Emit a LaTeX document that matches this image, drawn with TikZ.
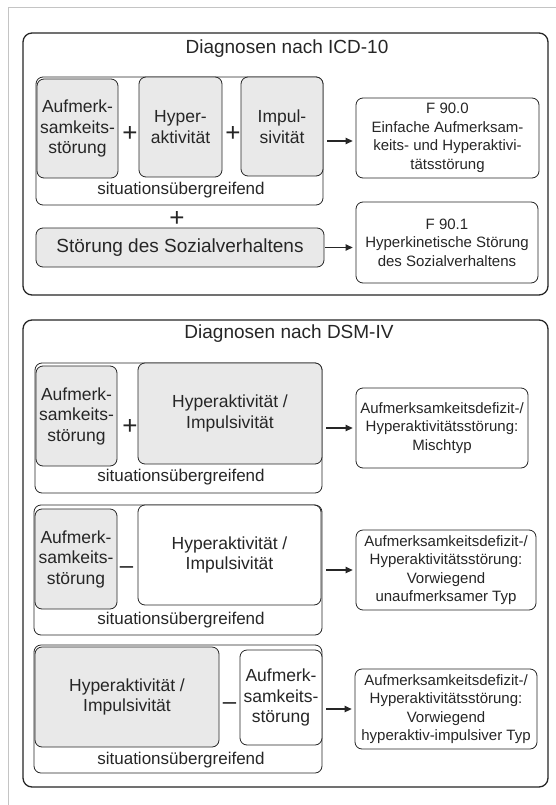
\documentclass[tikz,border=0pt]{standalone}
\usepackage{fontspec}
\setmainfont{Liberation Sans}
\usetikzlibrary{arrows.meta}
\definecolor{ink}{HTML}{262626}
\definecolor{shade}{HTML}{E9E9E9}
\definecolor{frameline}{HTML}{C4C4C4}
\tikzset{
  outerbox/.style={draw=ink, line width=1.3pt, rounded corners=9pt, fill=white, inner sep=0pt},
  groupbox/.style={draw=ink, line width=0.8pt, rounded corners=7pt, fill=white, inner sep=0pt},
  graybox/.style={draw=ink, line width=0.8pt, rounded corners=7pt, fill=shade, align=center, inner sep=1pt, text=ink, font=\fontsize{17.5}{20.5}\selectfont},
  whitebox/.style={graybox, fill=white},
  resultbox/.style={draw=ink, line width=0.8pt, rounded corners=7pt, fill=white, align=center, inner sep=1pt, text=ink, font=\fontsize{15}{18.5}\selectfont},
  titletext/.style={font=\fontsize{19}{22}\selectfont, text=ink, inner sep=0pt},
  sittext/.style={font=\fontsize{17}{20}\selectfont, text=ink, inner sep=0pt},
  plussign/.style={font=\fontsize{26}{26}\selectfont, text=ink, anchor=base, inner sep=0pt},
  dashsign/.style={font=\fontsize{24}{24}\selectfont, text=ink, anchor=base, inner sep=0pt},
  arr/.style={-{Triangle[length=7pt,width=6.5pt]}, line width=1.2pt, draw=ink, shorten <=4pt, shorten >=3pt}
}
\begin{document}
\begin{tikzpicture}[x=1pt,y=-1pt]
\useasboundingbox (0,0) rectangle (556,805);
\fill[white] (0,0) rectangle (556,805);
\draw[frameline, line width=0.8pt] (8,805) -- (8,7) -- (556,7);

% ---------- ICD-10 ----------
\node[outerbox, minimum width=525, minimum height=262] (icd) at (285.5,164) {};
\node[titletext] (icdtitle) at (287,49) {Diagnosen nach ICD-10};
\node[groupbox, minimum width=287, minimum height=128] (g1) at (179.5,141) {};
\node[graybox, minimum width=81, minimum height=99] (a1) at (77.5,128.5) {Aufmerk-\\samkeits-\\störung};
\node[graybox, minimum width=83, minimum height=100] (h1) at (180.5,127) {Hyper-\\aktivität};
\node[graybox, minimum width=82, minimum height=99] (i1) at (282,126.5) {Impul-\\sivität};
\node[plussign] (p1) at (130,142) {+};
\node[plussign] (p2) at (233,142) {+};
\node[sittext] (sit1) at (181,190) {situationsübergreifend};
\node[resultbox, minimum width=183, minimum height=80] (r1) at (447.5,138) {F 90.0\\Einfache Aufmerksam-\\keits- und Hyperaktivi-\\tätsstörung};
\node[plussign] (p3) at (177,226) {+};
\node[graybox, font=\fontsize{19}{22}\selectfont, minimum width=288, minimum height=39] (s1) at (180,247.5) {Störung des Sozialverhaltens};
\node[resultbox, minimum width=182, minimum height=81] (r2) at (447,242.5) {F 90.1\\Hyperkinetische Störung\\des Sozialverhaltens};
\draw[arr] (g1.east) -- (g1.east -| r1.west);
\draw[arr, shorten <=1pt] (s1.east) -- (s1.east -| r2.west);

% ---------- DSM-IV ----------
\node[outerbox, minimum width=525, minimum height=467] (dsm) at (285.5,553.5) {};
\node[titletext] (dsmtitle) at (289,334) {Diagnosen nach DSM-IV};

% Mischtyp
\node[groupbox, minimum width=287, minimum height=130] (gA) at (178.5,428) {};
\node[graybox, minimum width=81, minimum height=100] (aA) at (76.5,416) {Aufmerk-\\samkeits-\\störung};
\node[graybox, minimum width=184, minimum height=101] (hA) at (230,413.5) {Hyperaktivität /\\Impulsivität};
\node[plussign] (pA) at (130,434) {+};
\node[sittext] (sitA) at (181,477) {situationsübergreifend};
\node[resultbox, minimum width=172, minimum height=80] (rA) at (442,428) {Aufmerksamkeitsdefizit-/\\Hyperaktivitätsstörung:\\Mischtyp};
\draw[arr] (gA.east) -- (gA.east -| rA.west);

% unaufmerksamer Typ
\node[groupbox, minimum width=288, minimum height=130] (gB) at (178,570) {};
\node[graybox, minimum width=82, minimum height=100] (aB) at (76,559) {Aufmerk-\\samkeits-\\störung};
\node[whitebox, minimum width=183, minimum height=100] (hB) at (229.5,555) {Hyperaktivität /\\Impulsivität};
\node[dashsign] (dB) at (126.5,573.5) {–};
\node[sittext] (sitB) at (181,620) {situationsübergreifend};
\node[resultbox, minimum width=180, minimum height=80] (rB) at (446,570) {Aufmerksamkeitsdefizit-/\\Hyperaktivitätsstörung:\\Vorwiegend\\unaufmerksamer Typ};
\draw[arr] (gB.east) -- (gB.east -| rB.west);

% hyperaktiv-impulsiver Typ
\node[groupbox, minimum width=288, minimum height=128] (gC) at (178,709) {};
\node[graybox, minimum width=184, minimum height=100] (hC) at (127,697) {Hyperaktivität /\\Impulsivität};
\node[whitebox, minimum width=82, minimum height=95] (aC) at (281,697.5) {Aufmerk-\\samkeits-\\störung};
\node[dashsign] (dC) at (229.5,709.5) {–};
\node[sittext] (sitC) at (181,760) {situationsübergreifend};
\node[resultbox, minimum width=182, minimum height=80] (rC) at (446,709) {Aufmerksamkeitsdefizit-/\\Hyperaktivitätsstörung:\\Vorwiegend\\hyperaktiv-impulsiver Typ};
\draw[arr] (gC.east) -- (gC.east -| rC.west);
\end{tikzpicture}
\end{document}
